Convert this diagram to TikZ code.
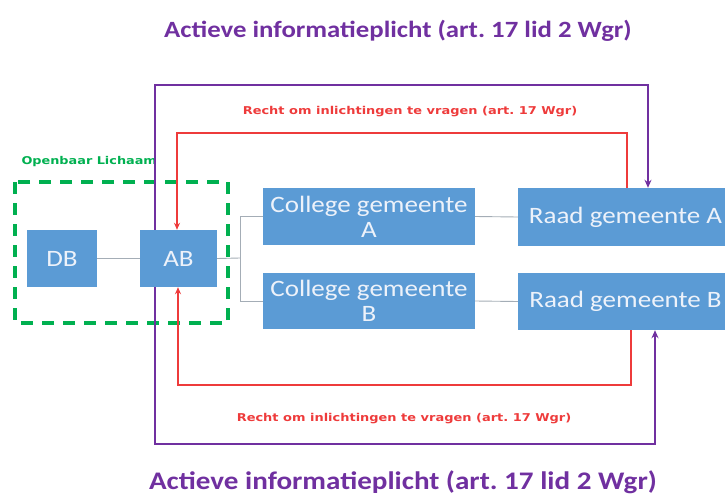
\documentclass[tikz,border=0pt]{standalone}
\usepackage{fontspec}
\setmainfont{Carlito}[FakeStretch=1.15]
\newfontfamily\verd{DejaVu Sans}[FakeStretch=1.2]
\usetikzlibrary{arrows.meta}
\frenchspacing
\definecolor{boxblue}{HTML}{5B9BD5}
\definecolor{boxtext}{HTML}{EDF2FA}
\definecolor{purp}{HTML}{7030A0}
\definecolor{redl}{HTML}{EE3B3B}
\definecolor{greenl}{HTML}{00B050}
\definecolor{grayl}{HTML}{A4ADB6}
\tikzset{
  box/.style={fill=boxblue, text=boxtext, inner sep=0pt, align=center, font=\fontsize{23.5}{25}\selectfont},
  conn/.style={draw=grayl, line width=0.9pt},
  purpline/.style={draw=purp, line width=2.4pt, -{Stealth[length=8pt,width=7pt]}},
  redline/.style={draw=redl, line width=1.8pt, -{Stealth[length=7pt,width=6pt]}},
  title/.style={text=purp, font=\bfseries\fontsize{23.3}{25}\selectfont},
  redlabel/.style={text=redl, font=\verd\bfseries\fontsize{10.8}{12}\selectfont},
}
\begin{document}
\begin{tikzpicture}[x=1pt,y=-1pt]
\useasboundingbox (0,0) rectangle (725,503);
% titles
\node[title] (ttop) at (398,31) {Actieve informatieplicht (art. 17 lid 2 Wgr)};
\node[title, font=\bfseries\fontsize{25.3}{27}\selectfont] (tbot) at (403,482) {Actieve informatieplicht (art. 17 lid 2 Wgr)};
% group
\draw[greenl, line width=3.8pt, dash pattern=on 12pt off 9pt] (15,182) rectangle (228,323);
\node[text=greenl, font=\verd\bfseries\fontsize{10.7}{12}\selectfont, anchor=west] (ol) at (18,162) {Openbaar Lichaam};
% connectors (behind boxes)
\coordinate (pTop) at (155,85);
\coordinate (pTopR) at (648,85);
\coordinate (pBot) at (155,444);
\coordinate (pBotR) at (655,444);
\coordinate (rTop) at (627,133);
\coordinate (rTopL) at (177,133);
\coordinate (rBot) at (631,385);
\coordinate (rBotL) at (178,385);
\coordinate (fork) at (240,258);
% boxes
\node[box, minimum width=70pt, minimum height=57pt] (db) at (62,258.5) {DB};
\node[box, minimum width=77pt, minimum height=57pt] (ab) at (178.5,258.5) {AB};
\node[box, minimum width=212pt, minimum height=57pt] (colA) at (369,216.5) {College gemeente\\A};
\node[box, minimum width=212pt, minimum height=56pt] (colB) at (369,301) {College gemeente\\B};
\node[box, minimum width=215pt, minimum height=58pt] (raadA) at (625.5,217) {Raad gemeente A};
\node[box, minimum width=215pt, minimum height=57pt] (raadB) at (625.5,301.5) {Raad gemeente B};
% purple lines
\draw[purpline] (ab.north -| pTop) -- (pTop) -- (pTopR) -- (raadA.north -| pTopR);
\draw[purpline] (ab.south -| pBot) -- (pBot) -- (pBotR) -- (raadB.south -| pBotR);
% red lines
\draw[redline] (raadA.north -| rTop) -- (rTop) -- (rTopL) -- (ab.north -| rTopL);
\draw[redline] (raadB.south -| rBot) -- (rBot) -- (rBotL) -- (ab.south -| rBotL);
% gray connectors
\draw[conn] (db.east) -- (ab.west);
\draw[conn] (ab.east) -- (fork);
\draw[conn] (colA.west) -- (colA.west -| fork) -- (colB.west -| fork) -- (colB.west);
\draw[conn] (colA.east) -- (raadA.west);
\draw[conn] (colB.east) -- (raadB.west);
% red labels
\node[redlabel] (lt) at (410,112) {Recht om inlichtingen te vragen (art. 17 Wgr)};
\node[redlabel] (lb) at (404,419) {Recht om inlichtingen te vragen (art. 17 Wgr)};
\end{tikzpicture}
\end{document}
